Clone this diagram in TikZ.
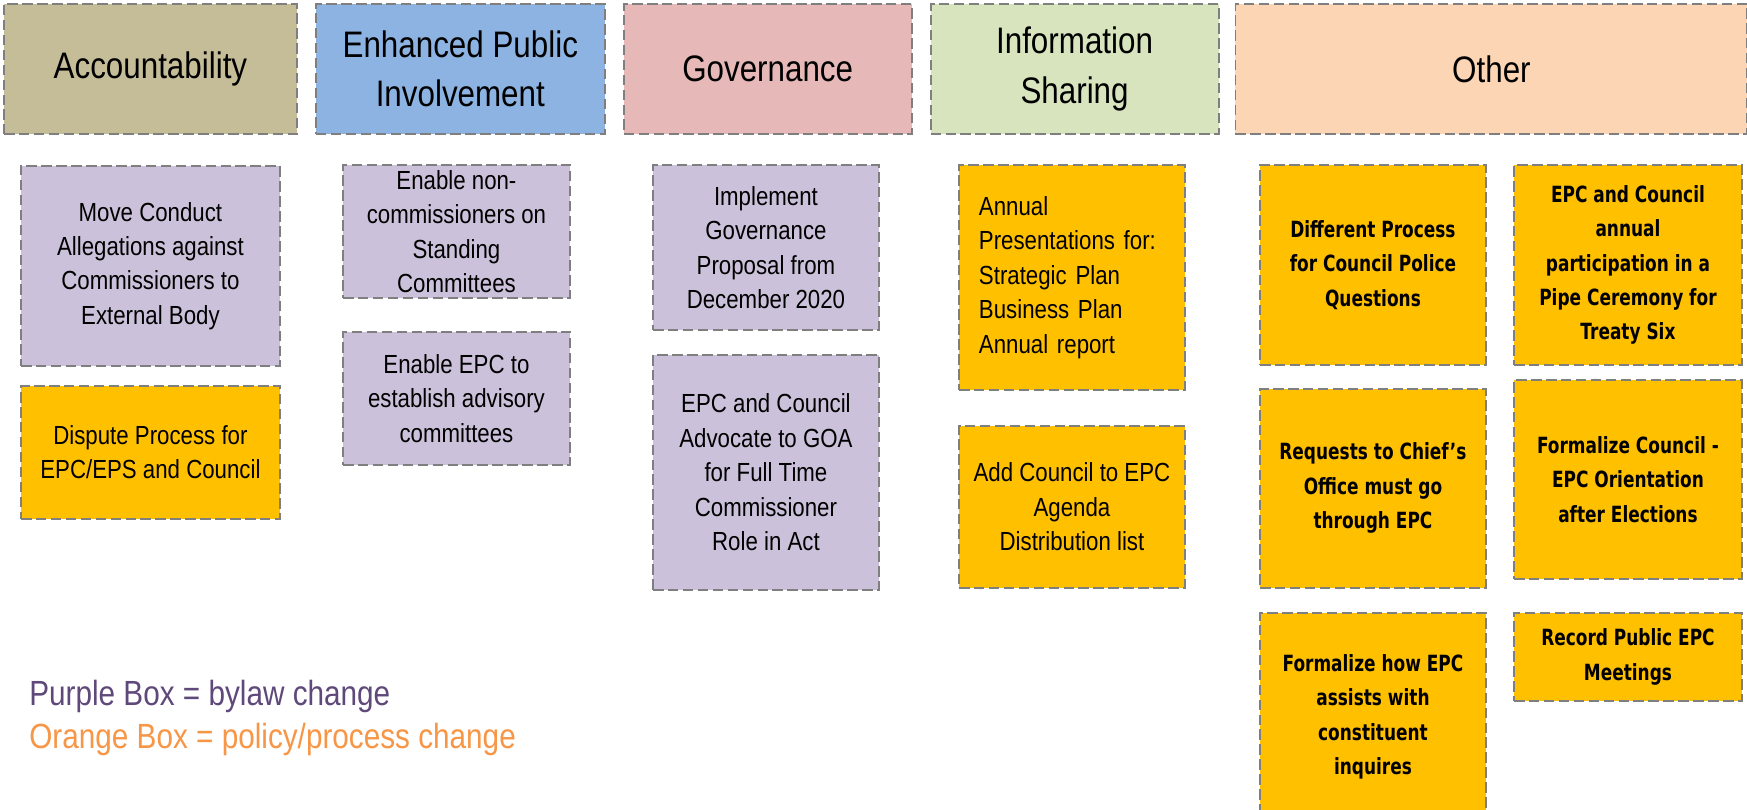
\documentclass[tikz,border=0pt]{standalone}
\usepackage{fontspec}
\setmainfont{Liberation Sans}[FakeStretch=0.85]
\newfontfamily\otherfont{DejaVu Sans}[FakeStretch=0.76]
\usepackage{tikz}
\usetikzlibrary{positioning}

\definecolor{boxline}{HTML}{7F7F7F}
\definecolor{acchead}{HTML}{C4BD97}
\definecolor{epihead}{HTML}{8DB3E2}
\definecolor{govhead}{HTML}{E6B9B8}
\definecolor{infohead}{HTML}{D7E4BD}
\definecolor{otherhead}{HTML}{FCD5B5}
\definecolor{bylawfill}{HTML}{CCC1DA}
\definecolor{policyfill}{HTML}{FFC000}
\definecolor{bylawtext}{HTML}{5F497A}
\definecolor{policytext}{HTML}{F79646}

\begin{document}
\begin{tikzpicture}[x=0.02cm, y=-0.02cm,
node distance=0.34cm]
\tikzstyle{every box}=[rectangle, draw=boxline, line width=1.1pt,
 dash pattern=on 6pt off 2.5pt, inner xsep=2pt, inner ysep=1pt, align=center, text=black]
\tikzstyle{catbox}=[every box, minimum height=2.6cm, font=\fontsize{21}{28}\selectfont]
\tikzstyle{bylawbox}=[every box, fill=bylawfill, font=\fontsize{14.9}{19.6}\selectfont]
\tikzstyle{policybox}=[every box, fill=policyfill, font=\fontsize{14.9}{19.6}\selectfont]
\tikzstyle{otherbox}=[policybox, minimum width=4.52cm, font=\otherfont\bfseries\fontsize{12.7}{19.6}\selectfont]
\tikzstyle{legend}=[anchor=base west, inner sep=0pt, font=\fontsize{19.9}{22}\selectfont]

\path[use as bounding box, fill=white] (0,0) rectangle (1747,810);

%headers
\node[catbox, fill=acchead, minimum width=5.86cm, anchor=north west] (acc) at (3,3) {Accountability};
\node[catbox, fill=epihead, minimum width=5.78cm, right=of acc] (epi) {Enhanced Public\\Involvement};
\node[catbox, fill=govhead, minimum width=5.76cm, right=of epi] (gov) {Governance};
\node[catbox, fill=infohead, minimum width=5.76cm, right=of gov] (info) {Information\\Sharing};
\node[catbox, fill=otherhead, minimum width=10.24cm, right=0.3cm of info] (other) {Other};

%accountability
\node[bylawbox, minimum width=5.18cm, minimum height=4cm, anchor=north west] (move) at (20,165)
 {Move Conduct\\Allegations against\\Commissioners to\\External Body};
\node[policybox, minimum width=5.18cm, minimum height=2.66cm, below=0.36cm of move] (dispute)
 {Dispute Process for\\EPC/EPS and Council};

%enhanced public involvement
\node[bylawbox, minimum width=4.54cm, minimum height=2.66cm, anchor=north west] (noncomm) at (342,164)
 {Enable non-\\commissioners on\\Standing\\Committees};
\node[bylawbox, minimum width=4.54cm, minimum height=2.66cm, below=0.64cm of noncomm] (advisory)
 {Enable EPC to\\establish advisory\\committees};

%governance
\node[bylawbox, minimum width=4.52cm, minimum height=3.3cm, anchor=north west] (implement) at (652,164)
 {Implement\\Governance\\Proposal from\\December 2020};
\node[bylawbox, minimum width=4.52cm, minimum height=4.7cm, below=0.46cm of implement] (advocate)
 {EPC and Council\\Advocate to GOA\\for Full Time\\Commissioner\\Role in Act};

%information sharing
\node[policybox, minimum width=4.52cm, minimum height=4.5cm, text width=3.72cm, inner xsep=0.4cm,
 align=left, anchor=north west] (annual) at (958,164)
 {Annual\\Presentations for:\\Strategic Plan\\Business Plan\\Annual report};
\node[policybox, minimum width=4.52cm, minimum height=3.24cm, below=0.68cm of annual] (agenda)
 {Add Council to EPC\\Agenda\\Distribution list};

%other
\node[otherbox, minimum height=4cm, anchor=north west] (police) at (1259,164)
 {Different Process\\for Council Police\\Questions};
\node[otherbox, minimum height=3.98cm, below=0.44cm of police] (chief)
 {Requests to Chief’s\\Office must go\\through EPC};
\node[otherbox, minimum height=4.16cm, below=0.46cm of chief] (inquire)
 {Formalize how EPC\\assists with\\constituent\\inquires};

\node[otherbox, minimum width=4.56cm, minimum height=4cm, anchor=north west] (pipe) at (1513,164)
 {EPC and Council\\annual\\participation in a\\Pipe Ceremony for\\Treaty Six};
\node[otherbox, minimum width=4.56cm, minimum height=3.98cm, below=0.26cm of pipe] (orient)
 {Formalize Council -\\EPC Orientation\\after Elections};
\node[otherbox, minimum width=4.56cm, minimum height=1.76cm, below=0.64cm of orient] (record)
 {Record Public EPC\\Meetings};

%legend
\node[legend, text=bylawtext] (purple) at (29,705) {Purple Box = bylaw change};
\node[legend, text=policytext] (orange) at (29,748) {Orange Box = policy/process change};

\end{tikzpicture}
\end{document}
